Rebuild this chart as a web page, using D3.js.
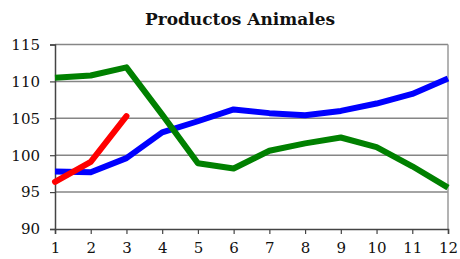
<!DOCTYPE html>
<html>
<head>
<meta charset="utf-8">
<script src="https://cdn.jsdelivr.net/npm/d3@7"></script>
<style>
  body { margin: 0; background: #fff; }
  svg { display: block; }
  svg text { font-family: "DejaVu Serif", Georgia, serif; }
</style>
</head>
<body>
<svg width="460" height="259"></svg>
<script>
const svg = d3.select('svg');
const width = +svg.attr('width');
const height = +svg.attr('height');

// data
const months = [1, 2, 3, 4, 5, 6, 7, 8, 9, 10, 11, 12];
const blueSeries = [97.8, 97.7, 99.6, 103.1, 104.6, 106.2, 105.7, 105.4, 106.0, 107.0, 108.3, 110.4];
const greenSeries = [110.5, 110.8, 111.9, 105.5, 98.9, 98.2, 100.6, 101.6, 102.4, 101.1, 98.5, 95.6];
const redSeries = [96.4, 99.1, 105.3];
const yTicks = [90, 95, 100, 105, 110, 115];

const series = [
    {values: blueSeries, color: '#0000ff'},
    {values: greenSeries, color: '#008000'},
    {values: redSeries, color: '#ff0000'}
];

const margin = {top: 44.5, right: 12, bottom: 30, left: 55};

const xScale = d3.scaleLinear()
    .domain([1, 12])
    .range([margin.left, width - margin.right]);

const yScale = d3.scaleLinear()
    .domain([90, 115])
    .range([height - margin.bottom, margin.top]);

// gridlines
svg.append('g')
    .selectAll('line')
    .data(yTicks.slice(1))
    .enter()
    .append('line')
    .attr('x1', xScale(1))
    .attr('x2', xScale(12))
    .attr('y1', d => yScale(d))
    .attr('y2', d => yScale(d))
    .attr('stroke', '#868686')
    .attr('stroke-width', 1.5);

// right border
svg.append('line')
    .attr('x1', xScale(12)).attr('x2', xScale(12))
    .attr('y1', yScale(115)).attr('y2', yScale(90))
    .attr('stroke', '#9a9a9a')
    .attr('stroke-width', 1.5);

// axes
const yAxis = d3.axisLeft(yScale).tickValues(yTicks).tickSize(5).tickPadding(10);
const xAxis = d3.axisBottom(xScale).tickValues(months).tickSize(5).tickPadding(8);

const yG = svg.append('g')
    .attr('transform', `translate(${margin.left},0)`)
    .call(yAxis);

const xG = svg.append('g')
    .attr('transform', `translate(0,${yScale(90)})`)
    .call(xAxis);

[yG, xG].forEach(g => {
    g.attr('font-family', null).attr('font-size', null);
    g.select('.domain').attr('stroke', '#444').attr('stroke-width', 1.5);
    g.selectAll('.tick line').attr('stroke', '#444').attr('stroke-width', 1.2);
    g.selectAll('.tick text')
        .attr('fill', '#111')
        .style('font-size', '15px');
});

// lines
const line = d3.line()
    .x((d, i) => xScale(months[i]))
    .y(d => yScale(d));

svg.append('g')
    .selectAll('path')
    .data(series)
    .enter()
    .append('path')
    .attr('d', d => line(d.values))
    .attr('fill', 'none')
    .attr('stroke', d => d.color)
    .attr('stroke-width', 6)
    .attr('stroke-linejoin', 'round')
    .attr('stroke-linecap', d => d.color === '#ff0000' ? 'round' : 'butt');

// title
svg.append('text')
    .attr('x', 240)
    .attr('y', 25)
    .attr('text-anchor', 'middle')
    .style('font-weight', 'bold')
    .style('font-size', '17px')
    .attr('fill', '#111')
    .text('Productos Animales');
</script>
</body>
</html>
